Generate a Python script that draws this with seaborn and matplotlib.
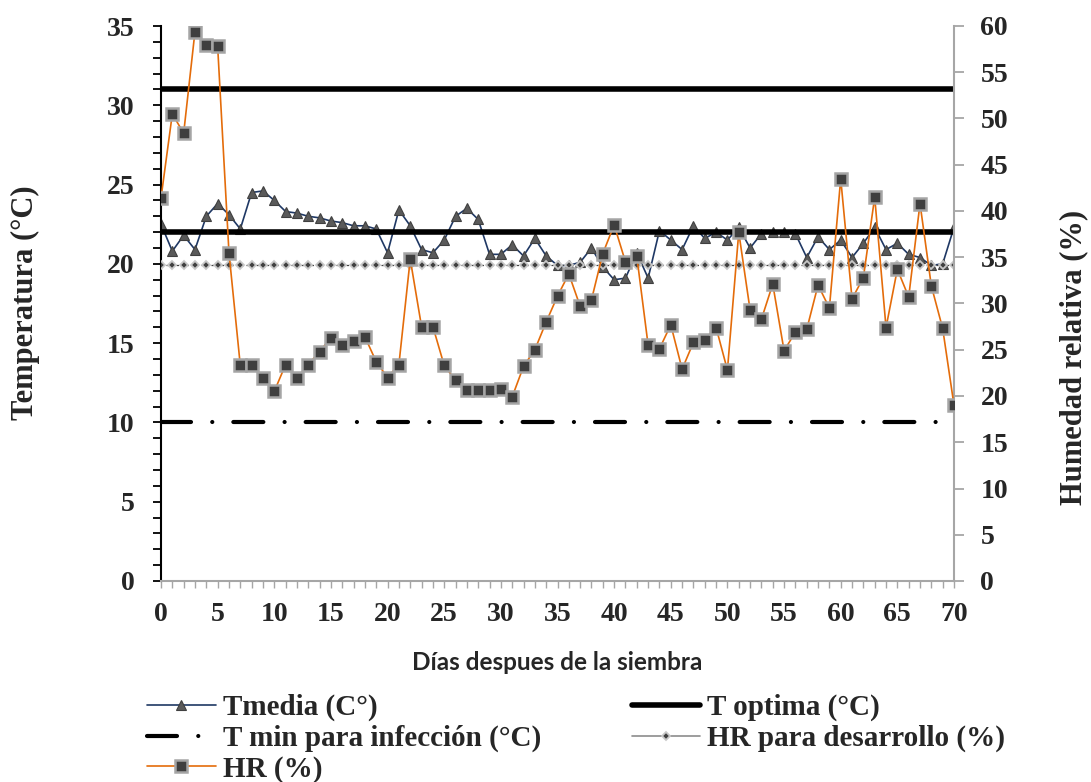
import matplotlib
matplotlib.use("Agg")
import matplotlib.pyplot as plt
from matplotlib.lines import Line2D
from matplotlib.ticker import MultipleLocator
import seaborn as sns
import pandas as pd

# ---------------- data ----------------
days = list(range(71))
tmedia = [22.5, 20.8, 21.8, 20.9, 23.0, 23.8, 23.1, 22.2, 24.5, 24.6,
          24.0, 23.3, 23.2, 23.0, 22.9, 22.7, 22.6, 22.4, 22.4, 22.2,
          20.7, 23.4, 22.4, 20.9, 20.7, 21.5, 23.0, 23.5, 22.8, 20.6,
          20.6, 21.2, 20.5, 21.6, 20.5, 19.9, 19.9, 20.1, 21.0, 19.8,
          19.0, 19.1, 20.7, 19.1, 22.1, 21.5, 20.9, 22.4, 21.6, 22.0,
          21.5, 22.3, 21.0, 21.9, 22.0, 22.0, 21.9, 20.4, 21.7, 20.9,
          21.5, 20.4, 21.3, 22.3, 20.9, 21.3, 20.6, 20.4, 19.9, 20.0,
          22.3]
hr = [41.4, 50.5, 48.4, 59.4, 57.9, 57.8, 35.5, 23.3, 23.4, 22.0,
      20.5, 23.4, 21.9, 23.4, 24.8, 26.3, 25.5, 25.9, 26.4, 23.7,
      22.0, 23.4, 34.8, 27.5, 27.5, 23.3, 21.7, 20.7, 20.6, 20.6,
      20.8, 19.9, 23.2, 25.0, 28.0, 30.8, 33.2, 29.7, 30.4, 35.4,
      38.5, 34.5, 35.1, 25.5, 25.1, 27.7, 22.9, 25.8, 26.1, 27.4,
      22.8, 37.7, 29.3, 28.3, 32.1, 24.9, 26.9, 27.2, 32.0, 29.5,
      43.5, 30.5, 32.8, 41.5, 27.4, 33.7, 30.7, 40.8, 31.9, 27.3,
      19.0]
t_optima_alta = 31
t_optima_baja = 22
t_min_infeccion = 10
hr_desarrollo = 34.2

x_ticks = list(range(0, 71, 5))
y_left_ticks = list(range(0, 36, 5))
y_right_ticks = list(range(0, 61, 5))

labels = ["Tmedia (C°)", "T min para infección (°C)", "HR (%)",
          "T optima (°C)", "HR para desarrollo (%)"]

df = pd.DataFrame({"dia": days, "tmedia": tmedia, "hr": hr,
                   "t_op_a": [t_optima_alta] * len(days),
                   "t_op_b": [t_optima_baja] * len(days),
                   "t_min": [t_min_infeccion] * len(days),
                   "hr_des": [hr_desarrollo] * len(days)})

# ---------------- style ----------------
sns.set_style("white")
plt.rcParams["font.family"] = ["Liberation Serif", "DejaVu Serif"]
plt.rcParams["font.weight"] = "bold"

W, H = 1091, 782
fig = plt.figure(figsize=(W / 100, H / 100), dpi=100)
ax = fig.add_axes([161 / W, 1 - 581 / H, (954 - 161) / W, (581 - 26) / H])
ax2 = ax.twinx()

navy = "#1F3864"
orange = "#E46C0A"
gray_axis = "#A6A6A6"

tmin_dash = (0, (7.2, 5.1, 0.01, 5.05))
hrdes_dash = (0, (2, 2))

# Tmedia
sns.lineplot(data=df, x="dia", y="tmedia", ax=ax, color=navy, lw=1.2,
             marker="^", markersize=7, mfc="#5A5A5A", mec="#404040", mew=0.8,
             estimator=None, errorbar=None, zorder=2)
# T optima lines
sns.lineplot(data=df, x="dia", y="t_op_a", ax=ax, color="black", lw=4,
             estimator=None, errorbar=None, zorder=3)
sns.lineplot(data=df, x="dia", y="t_op_b", ax=ax, color="black", lw=4,
             estimator=None, errorbar=None, zorder=3)
# T min para infeccion
sns.lineplot(data=df, x="dia", y="t_min", ax=ax, color="black", lw=3,
             linestyle=tmin_dash, dash_capstyle="round",
             estimator=None, errorbar=None, zorder=3)
# HR para desarrollo
sns.lineplot(data=df, x="dia", y="hr_des", ax=ax2, color="#404040", lw=0.9,
             linestyle=hrdes_dash, marker="D", markersize=4.5,
             mfc="#404040", mec="#C8C8C8", mew=1.3,
             estimator=None, errorbar=None, zorder=2)
# HR
sns.lineplot(data=df, x="dia", y="hr", ax=ax2, color=orange, lw=1.2,
             marker="s", markersize=8, mfc="#3F3F3F", mec="#A5A5A5", mew=1.8,
             estimator=None, errorbar=None, zorder=3)

# ---------------- axes ----------------
ax.set_xlim(0, 70)
ax.set_ylim(0, 35)
ax2.set_ylim(0, 60)
ax.set_xticks(x_ticks)
ax.xaxis.set_minor_locator(MultipleLocator(1))
ax.set_yticks(y_left_ticks)
ax.yaxis.set_minor_locator(MultipleLocator(1))
ax2.set_yticks(y_right_ticks)

ax.set_xlabel("")
ax.set_ylabel("")
ax2.set_ylabel("")

for s in ["top", "right"]:
    ax.spines[s].set_visible(False)
for s in ["top", "left", "bottom"]:
    ax2.spines[s].set_visible(False)
ax.spines["left"].set_color("black")
ax.spines["left"].set_linewidth(1.5)
ax.spines["bottom"].set_color(gray_axis)
ax.spines["bottom"].set_linewidth(1.5)
ax2.spines["right"].set_color(gray_axis)
ax2.spines["right"].set_linewidth(1.5)

ax.tick_params(axis="y", which="both", direction="out", length=6, width=1.3,
               color="black", left=True, labelsize=20, pad=13)
ax.tick_params(axis="x", which="both", direction="out", length=5, width=1.0,
               color=gray_axis, bottom=True, labelsize=20, pad=10)
ax2.tick_params(axis="y", which="both", direction="out", length=7, width=1.3,
                color=gray_axis, right=True, labelsize=20, pad=12)
for lab in ax.get_xticklabels() + ax.get_yticklabels() + ax2.get_yticklabels():
    lab.set_fontweight("bold")

ax.grid(False)
ax2.grid(False)

# ---------------- labels ----------------
fig.text(557 / W, 1 - 663 / H, "Días despues de la siembra",
         family=["Lato", "DejaVu Sans"], fontsize=17.5, fontweight="bold",
         ha="center", va="center")
fig.text(25 / W, 1 - 303 / H, "Temperatura (°C)", rotation=90,
         fontsize=22, fontweight="bold", ha="center", va="center")
fig.text(1074 / W, 1 - 357 / H, "Humedad relativa (%)", rotation=90,
         fontsize=22, fontweight="bold", ha="center", va="center")

# ---------------- legend ----------------
handles = [
    Line2D([], [], color=navy, lw=1.2, marker="^", markersize=7,
           mfc="#5A5A5A", mec="#404040", mew=0.8),
    Line2D([], [], color="black", lw=3, linestyle=tmin_dash,
           dash_capstyle="round"),
    Line2D([], [], color=orange, lw=1.2, marker="s", markersize=8,
           mfc="#3F3F3F", mec="#A5A5A5", mew=1.8),
    Line2D([], [], color="black", lw=4),
    Line2D([], [], color="#8C8C8C", lw=1.2, marker="D", markersize=4.5,
           mfc="#404040", mec="#C8C8C8", mew=1.3),
]
fig.legend(handles, labels, loc="upper left",
           bbox_to_anchor=(147 / W, 1 - 694 / H), ncol=2, frameon=False,
           borderpad=0, borderaxespad=0, handlelength=2.35,
           handletextpad=0.25, columnspacing=3.1, labelspacing=0.12,
           prop={"size": 21, "weight": "bold"})

fig.savefig("out.png", dpi=100)
